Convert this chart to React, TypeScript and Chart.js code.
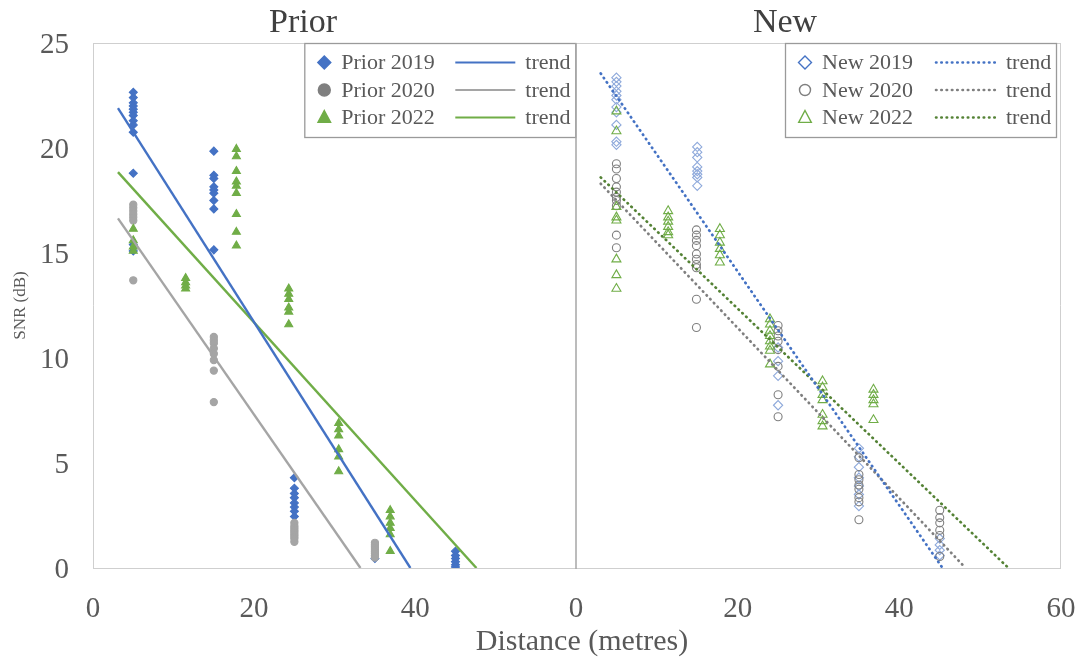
import React, { useEffect, useRef } from 'react';
import { Chart, registerables } from 'chart.js';
Chart.register(...registerables);

type Pt = [number, number];

const PANEL_TITLES = ['Prior', 'New'];
const PRIOR_LABELS = ['Prior 2019', 'Prior 2020', 'Prior 2022'];
const NEW_LABELS = ['New 2019', 'New 2020', 'New 2022'];
const TREND_LABEL = 'trend';
const X_TITLE = 'Distance (metres)';
const Y_TITLE = 'SNR (dB)';
const LEFT_X_TICKS = [0, 20, 40];
const RIGHT_X_TICKS = [0, 20, 40, 60];
const Y_TICKS = [0, 5, 10, 15, 20, 25];

// Prior (filled markers) — [distance, SNR]
const prior2019: Pt[] = [
  [5, 22.65], [5, 22.4], [5, 22.15], [5, 22.0], [5, 21.85], [5, 21.7], [5, 21.55], [5, 21.3], [5, 21.1], [5, 20.75], [5, 18.8], [5, 15.4], [5, 15.1],
  [15, 19.85], [15, 18.7], [15, 18.55], [15, 18.15], [15, 18.0], [15, 17.85], [15, 17.5], [15, 17.1], [15, 15.15],
  [25, 4.3], [25, 3.8], [25, 3.55], [25, 3.35], [25, 3.1], [25, 2.9], [25, 2.7], [25, 2.45],
  [35, 0.45],
  [45, 0.8], [45, 0.6], [45, 0.45], [45, 0.3], [45, 0.15], [45, 0.05],
];
const prior2020: Pt[] = [
  [5, 17.3], [5, 17.15], [5, 17.0], [5, 16.85], [5, 16.7], [5, 16.55], [5, 13.7],
  [15, 11.0], [15, 10.85], [15, 10.7], [15, 10.45], [15, 10.2], [15, 9.9], [15, 9.4], [15, 7.9],
  [25, 2.15], [25, 2.0], [25, 1.9], [25, 1.8], [25, 1.7], [25, 1.6], [25, 1.5], [25, 1.4], [25, 1.25],
  [35, 1.2], [35, 1.1], [35, 1.0], [35, 0.9], [35, 0.8], [35, 0.7], [35, 0.6], [35, 0.5],
];
const prior2022: Pt[] = [
  [5, 16.15], [5, 15.6], [5, 15.3], [5, 15.1],
  [11.5, 13.8], [11.5, 13.6], [11.5, 13.45], [11.5, 13.3],
  [17.8, 19.95], [17.8, 19.6], [17.8, 18.9], [17.8, 18.4], [17.8, 18.2], [17.8, 17.85], [17.8, 16.85], [17.8, 16.0], [17.8, 15.35],
  [24.3, 13.3], [24.3, 13.05], [24.3, 12.8], [24.3, 12.4], [24.3, 12.2], [24.3, 11.6],
  [30.5, 6.9], [30.5, 6.6], [30.5, 6.3], [30.5, 5.65], [30.5, 5.3], [30.5, 4.6],
  [36.9, 2.75], [36.9, 2.45], [36.9, 2.15], [36.9, 1.9], [36.9, 1.6], [36.9, 0.8],
];
const priorTrend2019: Pt[] = [[3.1, 21.9], [39.4, 0]];
const priorTrend2020: Pt[] = [[3.1, 16.65], [33.2, 0]];
const priorTrend2022: Pt[] = [[3.1, 18.85], [47.6, 0]];

// New (hollow markers)
const new2019: Pt[] = [
  [5, 23.35], [5, 23.15], [5, 22.95], [5, 22.7], [5, 22.5], [5, 22.3], [5, 21.95], [5, 21.7], [5, 21.1], [5, 20.3], [5, 20.15],
  [15, 20.05], [15, 19.8], [15, 19.55], [15, 19.1], [15, 18.9], [15, 18.75], [15, 18.6], [15, 18.2],
  [25, 10.5], [25, 9.85], [25, 9.15], [25, 7.75],
  [35, 5.7], [35, 5.3], [35, 4.8], [35, 4.3], [35, 3.9], [35, 3.5], [35, 2.95],
  [45, 1.4], [45, 1.1], [45, 0.85], [45, 0.6],
];
const new2020: Pt[] = [
  [5, 19.25], [5, 19.0], [5, 18.55], [5, 18.15], [5, 17.9], [5, 17.65], [5, 17.5], [5, 17.25], [5, 15.85], [5, 15.25],
  [14.9, 16.1], [14.9, 15.85], [14.9, 15.6], [14.9, 15.35], [14.9, 14.95], [14.9, 14.7], [14.9, 14.45], [14.9, 14.3], [14.9, 12.8], [14.9, 11.45],
  [25, 11.55], [25, 11.3], [25, 11.05], [25, 10.8], [25, 10.4], [25, 9.6], [25, 8.25], [25, 7.2],
  [35, 5.25], [35, 4.45], [35, 4.2], [35, 3.95], [35, 3.75], [35, 3.35], [35, 3.15], [35, 2.3],
  [45, 2.75], [45, 2.4], [45, 2.15], [45, 1.8], [45, 1.55], [45, 0.55],
];
const new2022: Pt[] = [
  [5, 21.75], [5, 20.8], [5, 17.2], [5, 16.7], [5, 16.55], [5, 14.7], [5, 13.95], [5, 13.3],
  [11.4, 17.0], [11.4, 16.7], [11.4, 16.5], [11.4, 16.25], [11.4, 16.0], [11.4, 15.85],
  [17.8, 16.15], [17.8, 15.85], [17.8, 15.5], [17.8, 15.2], [17.8, 14.9], [17.8, 14.55],
  [24, 11.85], [24, 11.6], [24, 11.3], [24, 11.05], [24, 10.8], [24, 10.55], [24, 10.35], [24, 9.7],
  [30.5, 8.9], [30.5, 8.6], [30.5, 8.25], [30.5, 8.0], [30.5, 7.3], [30.5, 7.0], [30.5, 6.75],
  [36.8, 8.5], [36.8, 8.25], [36.8, 8.0], [36.8, 7.8], [36.8, 7.05],
];
const newTrend2019: Pt[] = [[3.06, 23.55], [45.35, 0]];
const newTrend2020: Pt[] = [[3.06, 18.3], [48.2, 0]];
const newTrend2022: Pt[] = [[3.06, 18.6], [53.5, 0]];

const FONT = '"Liberation Serif", "Times New Roman", serif';
const TEXT = '#595959';
const BLUE = '#4472C4';
const GRAY = '#A5A5A5';
const GREEN = '#70AD47';
const DOTS = [0.5, 4.8];

const toXY = (pts: Pt[]) => pts.map(([x, y]) => ({ x, y }));

function scatterSet(label: string, pts: Pt[], style: string, radius: number, fill: string, stroke: string, order: number, legendColor: string, legendRadius: number) {
  return {
    type: 'scatter', label, data: toXY(pts), pointStyle: style, pointRadius: radius,
    pointBackgroundColor: fill, pointBorderColor: stroke, pointBorderWidth: 1.1,
    showLine: false, order, legendColor, legendRadius, legendFill: fill,
  } as any;
}
function trendSet(label: string, pts: Pt[], color: string, dash: number[], width: number) {
  return {
    type: 'line', label, data: toXY(pts), borderColor: color, borderWidth: width,
    borderDash: dash, borderCapStyle: dash.length ? 'round' : 'butt',
    pointRadius: 0, showLine: true, order: 0, fill: false, tension: 0,
  } as any;
}

function drawMarker(ctx: CanvasRenderingContext2D, style: string, x: number, y: number, r: number, fill: string, stroke: string, lw: number) {
  ctx.beginPath();
  if (style === 'rectRot') {
    ctx.moveTo(x, y - r); ctx.lineTo(x + r, y); ctx.lineTo(x, y + r); ctx.lineTo(x - r, y); ctx.closePath();
  } else if (style === 'triangle') {
    ctx.moveTo(x, y - r); ctx.lineTo(x + r * 0.9, y + r * 0.7); ctx.lineTo(x - r * 0.9, y + r * 0.7); ctx.closePath();
  } else {
    ctx.arc(x, y, r, 0, Math.PI * 2);
  }
  if (fill && fill !== 'transparent') { ctx.fillStyle = fill; ctx.fill(); }
  ctx.lineWidth = lw; ctx.strokeStyle = stroke; ctx.stroke();
}

const panelPlugin = {
  id: 'panel',
  beforeDatasetsDraw(chart: any, _a: any, opts: any) {
    const { ctx, chartArea: a } = chart;
    ctx.save();
    ctx.strokeStyle = '#CFCFCF';
    ctx.lineWidth = 1;
    ctx.beginPath();
    if (!opts.dividerLeft) { ctx.moveTo(a.left + 0.5, a.bottom); ctx.lineTo(a.left + 0.5, a.top + 0.5); }
    ctx.moveTo(a.left, a.top + 0.5); ctx.lineTo(a.right, a.top + 0.5);
    if (opts.closeRight) { ctx.moveTo(a.right - 0.5, a.top); ctx.lineTo(a.right - 0.5, a.bottom); }
    ctx.moveTo(a.left, a.bottom + 0.5); ctx.lineTo(a.right, a.bottom + 0.5);
    ctx.stroke();
    if (opts.dividerLeft) {
      ctx.strokeStyle = '#A6A6A6';
      ctx.lineWidth = 1.5;
      ctx.beginPath();
      ctx.moveTo(a.left, a.top); ctx.lineTo(a.left, a.bottom + 1);
      ctx.stroke();
    }
    ctx.restore();
  },
  afterDraw(chart: any, _a: any, opts: any) {
    const { ctx, chartArea: a } = chart;
    const ds = chart.data.datasets;
    const boxW = 272, boxH = 95;
    const bx = a.right - opts.rightInset - boxW;
    const by = a.top;
    ctx.save();
    ctx.fillStyle = '#FFFFFF';
    ctx.fillRect(bx, by, boxW, boxH);
    ctx.strokeStyle = '#9A9A9A';
    ctx.lineWidth = 1.3;
    ctx.strokeRect(bx + 0.5, by + 0.5, boxW - 1, boxH - 1);
    ctx.font = `22px ${FONT}`;
    ctx.textBaseline = 'middle';
    ctx.textAlign = 'left';
    opts.rows.forEach((row: number[], k: number) => {
      const s = ds[row[0]];
      const t = ds[row[1]];
      const y = by + 19.5 + k * 27.5;
      drawMarker(ctx, s.pointStyle, bx + 20, y, s.legendRadius, s.legendFill === 'transparent' ? 'transparent' : s.legendColor, s.legendColor, 1.4);
      ctx.fillStyle = TEXT;
      ctx.fillText(s.label, bx + 37, y + 1);
      ctx.save();
      ctx.strokeStyle = t.borderColor;
      ctx.lineWidth = t.borderDash.length ? 2.6 : 2;
      ctx.lineCap = t.borderDash.length ? 'round' : 'butt';
      ctx.setLineDash(t.borderDash);
      ctx.beginPath();
      ctx.moveTo(bx + 151, y); ctx.lineTo(bx + 211, y);
      ctx.stroke();
      ctx.restore();
      ctx.fillStyle = TEXT;
      ctx.fillText(t.label, bx + 221, y + 1);
    });
    ctx.restore();
  },
};

const hiddenGrid = { display: true, drawOnChartArea: false, drawTicks: true, color: 'rgba(0,0,0,0)' };

function xScale(ticks: number[]) {
  return {
    type: 'linear', min: 0, max: 60,
    afterBuildTicks: (s: any) => { s.ticks = ticks.map((v) => ({ value: v })); },
    afterFit: (s: any) => { s.height = 92; s.paddingLeft = 0; s.paddingRight = 0; },
    ticks: { font: { family: FONT, size: 29 }, color: TEXT, padding: 2, maxRotation: 0 },
    grid: { ...hiddenGrid, tickLength: 22 },
    border: { display: false },
  } as any;
}

function PanelChart(props: { side: 'left' | 'right' }) {
  const ref = useRef<HTMLCanvasElement | null>(null);
  useEffect(() => {
    if (!ref.current) return;
    const left = props.side === 'left';
    const datasets = left
      ? [
          scatterSet(PRIOR_LABELS[0], prior2019, 'rectRot', 4, BLUE, BLUE, 3, BLUE, 6.5),
          scatterSet(PRIOR_LABELS[1], prior2020, 'circle', 3.6, GRAY, GRAY, 2, '#7F7F7F', 6),
          scatterSet(PRIOR_LABELS[2], prior2022, 'triangle', 4.6, GREEN, GREEN, 1, GREEN, 7),
          trendSet(TREND_LABEL, priorTrend2019, BLUE, [], 2.4),
          trendSet(TREND_LABEL, priorTrend2020, GRAY, [], 2.4),
          trendSet(TREND_LABEL, priorTrend2022, GREEN, [], 2.4),
        ]
      : [
          scatterSet(NEW_LABELS[0], new2019, 'rectRot', 4.6, 'transparent', '#8EA9DB', 3, BLUE, 6.5),
          scatterSet(NEW_LABELS[1], new2020, 'circle', 4, 'transparent', '#7F7F7F', 2, '#7F7F7F', 5.5),
          scatterSet(NEW_LABELS[2], new2022, 'triangle', 5.2, 'transparent', GREEN, 1, GREEN, 7),
          trendSet(TREND_LABEL, newTrend2019, BLUE, DOTS, 2.7),
          trendSet(TREND_LABEL, newTrend2020, '#7F7F7F', DOTS, 2.7),
          trendSet(TREND_LABEL, newTrend2022, '#548235', DOTS, 2.7),
        ];
    const yScale: any = left
      ? {
          type: 'linear', min: 0, max: 25,
          afterBuildTicks: (s: any) => { s.ticks = Y_TICKS.map((v) => ({ value: v })); },
          afterFit: (s: any) => { s.width = 93; s.paddingTop = 0; s.paddingBottom = 0; },
          ticks: { font: { family: FONT, size: 29 }, color: TEXT, padding: 2, labelOffset: 2 },
          grid: { ...hiddenGrid, tickLength: 22 },
          border: { display: false },
          title: { display: true, text: Y_TITLE, font: { family: FONT, size: 17 }, color: TEXT, padding: { top: 10, bottom: 0 } },
        }
      : { type: 'linear', min: 0, max: 25, display: false };
    const chart = new Chart(ref.current, {
      type: 'scatter',
      data: { datasets },
      plugins: [panelPlugin],
      options: {
        responsive: false,
        animation: false,
        layout: { padding: left ? { top: 43, right: 1, left: 0, bottom: 0 } : { top: 43, right: 20, left: 30, bottom: 0 } },
        plugins: {
          legend: { display: false },
          tooltip: { enabled: false },
          panel: { dividerLeft: !left, closeRight: !left, rightInset: left ? 0 : 4, rows: [[0, 3], [1, 4], [2, 5]] },
        } as any,
        scales: {
          x: xScale(left ? LEFT_X_TICKS : RIGHT_X_TICKS),
          y: yScale,
        },
      },
    } as any);
    return () => chart.destroy();
  }, [props.side]);
  const style: React.CSSProperties = props.side === 'left'
    ? { position: 'absolute', left: 0, top: 0, width: 582, height: 660, display: 'block' }
    : { position: 'absolute', left: 546, top: 0, width: 535, height: 660, display: 'block' };
  return <canvas ref={ref} width={style.width as number} height={660} style={style} />;
}

const textStyle = (x: number, y: number, size: number, color: string): React.CSSProperties => ({
  position: 'absolute', left: x, top: y, transform: 'translate(-50%, -50%)', fontFamily: FONT,
  fontSize: size, color, lineHeight: 1, whiteSpace: 'nowrap',
});

export default function App() {
  return (
    <div style={{ position: 'absolute', left: 0, top: 0, width: 1081, height: 660, background: '#FFFFFF', overflow: 'hidden' }}>
      <PanelChart side="left" />
      <PanelChart side="right" />
      <div style={textStyle(303, 21, 34, '#404040')}>{PANEL_TITLES[0]}</div>
      <div style={textStyle(785, 21, 34, '#404040')}>{PANEL_TITLES[1]}</div>
      <div style={textStyle(582, 640, 30, TEXT)}>{X_TITLE}</div>
    </div>
  );
}
